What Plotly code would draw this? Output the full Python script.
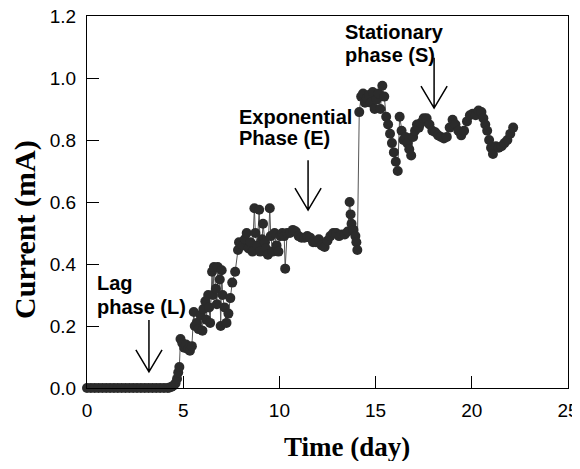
import plotly.graph_objects as go

# time (day) and current (mA)
time_day = [0.0, 0.2, 0.4, 0.6, 0.8, 1.0, 1.2, 1.4, 1.6, 1.8, 2.0, 2.2, 2.4, 2.6, 2.8,
            3.0, 3.2, 3.4, 3.6, 3.8, 4.0, 4.2, 4.3, 4.4, 4.5, 4.6, 4.68, 4.74, 4.8,
            4.86, 4.95, 5.05, 5.15, 5.25, 5.35, 5.45, 5.55, 5.6, 5.7, 5.8, 5.9, 6.0,
            6.05, 6.15, 6.2, 6.3, 6.35, 6.4, 6.5, 6.55, 6.6, 6.7, 6.75, 6.8, 6.9,
            6.95, 7.0, 7.05, 7.15, 7.25, 7.35, 7.45, 7.55, 7.7, 7.85, 7.9, 8.0, 8.1,
            8.2, 8.3, 8.4, 8.5, 8.6, 8.7, 8.75, 8.85, 8.95, 9.0, 9.1, 9.15, 9.25,
            9.3, 9.4, 9.5, 9.55, 9.65, 9.75, 9.85, 9.95, 10.05, 10.15, 10.25, 10.3,
            10.4, 10.55, 10.7, 10.85, 11.0, 11.15, 11.3, 11.45, 11.6, 11.75, 11.9,
            12.05, 12.2, 12.35, 12.5, 12.65, 12.8, 12.95, 13.1, 13.25, 13.4, 13.55,
            13.65, 13.7, 13.75, 13.85, 13.95, 14.0, 14.05, 14.15, 14.25, 14.35,
            14.45, 14.55, 14.65, 14.75, 14.85, 14.95, 15.05, 15.15, 15.25, 15.35,
            15.45, 15.55, 15.65, 15.75, 15.85, 15.95, 16.05, 16.15, 16.25, 16.35,
            16.45, 16.55, 16.65, 16.75, 16.85, 16.95, 17.05, 17.15, 17.25, 17.35,
            17.5, 17.65, 17.8, 17.95, 18.1, 18.25, 18.4, 18.55, 18.7, 18.85, 19.0,
            19.15, 19.3, 19.45, 19.6, 19.75, 19.9, 20.05, 20.2, 20.35, 20.5, 20.6,
            20.7, 20.8, 20.9, 21.0, 21.1, 21.25, 21.4, 21.55, 21.7, 21.85, 22.0, 22.15]

current_ma = [0.0, 0.0, 0.0, 0.0, 0.0, 0.0, 0.0, 0.0, 0.0, 0.0, 0.0, 0.0, 0.0, 0.0, 0.0,
              0.0, 0.0, 0.0, 0.0, 0.0, 0.0, 0.0, 0.002, 0.004, 0.008, 0.015, 0.03, 0.05, 0.068,
              0.158, 0.145, 0.13, 0.14, 0.125, 0.12, 0.135, 0.245, 0.2, 0.21, 0.19, 0.235, 0.185,
              0.255, 0.28, 0.22, 0.3, 0.26, 0.21, 0.375, 0.3, 0.39, 0.32, 0.27, 0.39, 0.35,
              0.2, 0.38, 0.3, 0.26, 0.21, 0.24, 0.29, 0.34, 0.375, 0.445, 0.47, 0.465, 0.46,
              0.48, 0.5, 0.45, 0.47, 0.44, 0.58, 0.5, 0.46, 0.575, 0.44, 0.48, 0.53, 0.47,
              0.45, 0.43, 0.58, 0.49, 0.44, 0.5, 0.46, 0.44, 0.49, 0.5, 0.49, 0.385,
              0.5, 0.5, 0.51, 0.505, 0.49, 0.485, 0.485, 0.49, 0.485, 0.47, 0.47,
              0.48, 0.46, 0.455, 0.475, 0.49, 0.5, 0.5, 0.49, 0.495, 0.495, 0.505,
              0.6, 0.56, 0.53, 0.51, 0.49, 0.47, 0.445, 0.89, 0.94, 0.95,
              0.92, 0.935, 0.945, 0.92, 0.955, 0.9, 0.93, 0.95, 0.9, 0.975,
              0.94, 0.875, 0.85, 0.82, 0.79, 0.76, 0.73, 0.70, 0.875, 0.83,
              0.8, 0.81, 0.79, 0.77, 0.75, 0.81, 0.83, 0.85, 0.84, 0.855,
              0.87, 0.87, 0.85, 0.83, 0.825, 0.815, 0.81, 0.805, 0.81, 0.84, 0.865,
              0.85, 0.83, 0.815, 0.83, 0.86, 0.88, 0.885, 0.88, 0.895, 0.89, 0.87,
              0.85, 0.83, 0.8, 0.775, 0.755, 0.78, 0.775, 0.78, 0.79, 0.8, 0.82, 0.84]

# phase labels (two lines each) and their arrows
label_line1 = ["Lag", "Exponential", "Stationary"]
label_line2 = ["phase (L)", "Phase (E)", "phase (S)"]
label_x = [0.42, 7.8, 13.3]
label_y1 = [0.339, 0.874, 1.148]
label_y2 = [0.261, 0.806, 1.074]
arrow_x = [3.22, 11.49, 18.04]
arrow_top = [0.219, 0.735, 1.065]
arrow_tip = [0.052, 0.574, 0.903]

fig = go.Figure()
fig.add_trace(go.Scatter(
    x=time_day, y=current_ma, mode="lines+markers",
    line=dict(color="#555555", width=1),
    marker=dict(color="#2b2b2b", size=10),
    cliponaxis=False, showlegend=False,
))

label_font = dict(family="Liberation Sans, Arial", size=20, color="black")
for l1, l2, lx, y1, y2 in zip(label_line1, label_line2, label_x, label_y1, label_y2):
    for txt, ly in ((l1, y1), (l2, y2)):
        fig.add_annotation(x=lx, y=ly, xref="x", yref="y", text="<b>" + txt + "</b>",
                           showarrow=False, xanchor="left", yanchor="middle",
                           font=label_font)

head_w, head_h = 0.68, 0.071
for ax, top, tip in zip(arrow_x, arrow_top, arrow_tip):
    path = (f"M {ax} {top} L {ax} {tip} M {ax - head_w} {tip + head_h} "
            f"L {ax} {tip} L {ax + head_w} {tip + head_h}")
    fig.add_shape(type="path", path=path, xref="x", yref="y",
                  line=dict(color="black", width=1.5))

# axis titles sit a little off-centre in the reference, so place them by hand
title_font = dict(family="Liberation Serif, Times New Roman", color="black")
fig.add_annotation(text="<b>Current (mA)</b>", textangle=-90, xref="paper", yref="paper",
                   x=0, y=0.425, xshift=-62, xanchor="center", yanchor="middle",
                   showarrow=False, font=dict(size=30, **title_font))
fig.add_annotation(text="<b>Time (day)</b>", xref="paper", yref="paper",
                   x=0.54, y=0, yshift=-59, xanchor="center", yanchor="middle",
                   showarrow=False, font=dict(size=27, **title_font))

axis_style = dict(showline=True, linecolor="black", linewidth=1, mirror=True,
                  ticks="inside", ticklen=12, tickcolor="black", showgrid=False,
                  zeroline=False, automargin=False, ticklabeloverflow="allow",
                  tickfont=dict(family="Liberation Sans, Arial", size=19, color="black"))

fig.update_xaxes(range=[0, 25], tickvals=[0, 5, 10, 15, 20, 25], ticklabelstandoff=5,
                 **axis_style)
fig.update_yaxes(range=[0, 1.2], tickvals=[0, 0.2, 0.4, 0.6, 0.8, 1.0, 1.2], tickformat=".1f",
                 ticklabelstandoff=6, **axis_style)

# the page adds an 8px body margin; keep the page from scrolling
fig.update_layout(width=572, height=453, margin=dict(l=79, r=12, t=8, b=73),
                  plot_bgcolor="white", paper_bgcolor="white")

fig.write_html("out.html")
